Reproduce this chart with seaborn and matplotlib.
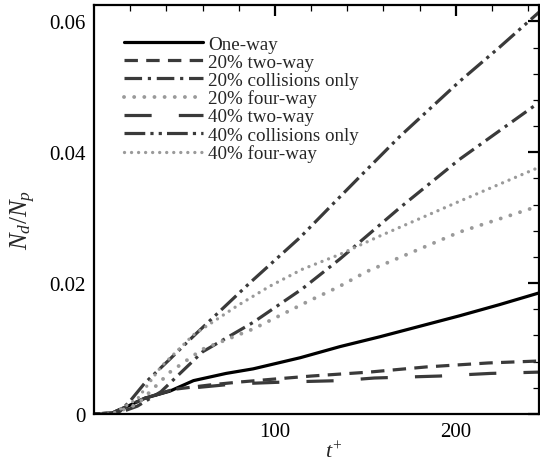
import matplotlib
matplotlib.use("Agg")
import matplotlib.pyplot as plt
import seaborn as sns
import numpy as np

sns.set_theme(style="white")
plt.rcParams['font.family'] = ['Liberation Serif', 'DejaVu Serif']
plt.rcParams['mathtext.fontset'] = 'custom'
plt.rcParams['mathtext.rm'] = 'Liberation Serif'
plt.rcParams['mathtext.it'] = 'Liberation Serif:italic'

# ---- data ----
t_one = [0, 10, 18, 28, 42, 55, 73, 88, 114, 136, 158, 180, 202, 224, 246]
y_one = [0, 0.00015, 0.0011, 0.0024, 0.0035, 0.0051, 0.0062, 0.0069, 0.0086,
         0.0103, 0.0118, 0.0134, 0.0150, 0.0167, 0.0185]

t_two20 = [0, 10, 28, 45, 66, 81, 98, 120, 152, 184, 218, 246]
y_two20 = [0, 0.00015, 0.0024, 0.0038, 0.0045, 0.0049, 0.0053, 0.0058, 0.0064,
           0.0072, 0.0078, 0.0081]

t_col20 = [0, 10, 17, 24, 37, 60, 88, 115, 136, 169, 202, 246]
y_col20 = [0, 0, 0.0005, 0.0012, 0.0034, 0.0095, 0.0140, 0.0191, 0.0237, 0.0315,
           0.0389, 0.0476]

t_four20 = [0, 10, 24, 42, 60, 88, 119, 135, 151, 202, 246]
y_four20 = [0, 0, 0.0015, 0.0064, 0.0099, 0.0130, 0.0173, 0.0194, 0.0218, 0.0278,
            0.0318]

t_two40 = [0, 10, 28, 42, 59, 78, 107, 136, 155, 191, 219, 246]
y_two40 = [0, 0.00015, 0.0024, 0.0036, 0.0041, 0.0046, 0.0049, 0.0051, 0.0055,
           0.0058, 0.0062, 0.0064]

t_col40 = [0, 10, 14, 20, 28, 42, 55, 86, 114, 136, 151, 169, 202, 224, 246]
y_col40 = [0, 0, 0.0003, 0.0020, 0.0047, 0.0084, 0.0119, 0.0200, 0.0270, 0.0332,
           0.0374, 0.0424, 0.0508, 0.0560, 0.0614]

t_four40 = [0, 10, 24, 37, 55, 79, 97, 115, 136, 158, 202, 246]
y_four40 = [0, 0, 0.0023, 0.0072, 0.0121, 0.0165, 0.0195, 0.0221, 0.0244, 0.0272,
            0.0325, 0.0377]

labels = ["One-way", "20% two-way", "20% collisions only", "20% four-way",
          "40% two-way", "40% collisions only", "40% four-way"]

dark = "#3a3a3a"
grey = "#9a9a9a"
series = [
    (t_one, y_one, dict(color="black", lw=2.3, linestyle="-")),
    (t_two20, y_two20, dict(color=dark, lw=2.3, linestyle=(0, (4.2, 2.6)), dash_capstyle="butt")),
    (t_col20, y_col20, dict(color=dark, lw=2.3, linestyle=(0, (5.5, 1.8, 1.0, 1.8)))),
    (t_four20, y_four20, dict(color=grey, lw=2.8, linestyle=(0, (0.01, 2.6)), dash_capstyle="round")),
    (t_two40, y_two40, dict(color=dark, lw=2.3, linestyle=(0, (8.5, 8.5)))),
    (t_col40, y_col40, dict(color=dark, lw=2.3, linestyle=(0, (6.5, 1.6, 1.0, 1.6, 1.0, 1.6)))),
    (t_four40, y_four40, dict(color=grey, lw=2.4, linestyle=(0, (0.01, 2.1)), dash_capstyle="round")),
]

fig = plt.figure(figsize=(5.4, 4.64), dpi=100)
ax = fig.add_axes([94/540, 49/464, 445/540, 409/464])

for (tx, yy, kw), lab in zip(series, labels):
    sns.lineplot(x=tx, y=yy, ax=ax, label=lab, estimator=None, **kw)

ax.set_xlim(0, 246)
ax.set_ylim(0, 0.0625)
ax.set_xticks([100, 200])
ax.set_xticks(np.arange(20, 246, 20), minor=True)
ax.set_yticks([0, 0.02, 0.04, 0.06])
ax.set_yticklabels(["0", "0.02", "0.04", "0.06"])
ax.set_yticks(np.arange(0, 0.0625, 0.004), minor=True)
ax.tick_params(which="both", direction="in", top=True, right=True, colors="black",
               labelsize=15)
ax.tick_params(which="major", length=8, width=1.6, pad=6)
ax.tick_params(which="minor", length=4.5, width=0.9)
for sp in ax.spines.values():
    sp.set_linewidth(1.6)
    sp.set_color("black")

ax.set_xlabel("$t^{+}$", fontsize=16)
ax.set_ylabel("$N_d/N_p$", fontsize=18)
ax.xaxis.set_label_coords(0.539, -0.066)
ax.yaxis.set_label_coords(-0.126, 0.477)

leg = ax.legend(loc="upper left", bbox_to_anchor=(0.067, 0.926), frameon=False,
                fontsize=13.7, handlelength=4.15, handletextpad=0.3,
                labelspacing=0.04, borderpad=0, borderaxespad=0)

fig.savefig("out.png", dpi=100)
